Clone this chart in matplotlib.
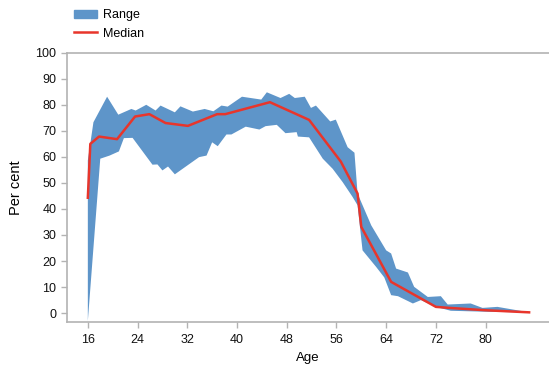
import numpy as np
import matplotlib
matplotlib.use("Agg")
import matplotlib.pyplot as plt
from matplotlib.patches import Patch
from matplotlib.lines import Line2D

plt.rcParams['font.family'] = ['Liberation Sans', 'DejaVu Sans']

# Median line
median_age = [16, 16.4, 17.8, 20.7, 23.6, 25.9, 28.5, 32.1, 36.8, 38.1, 45.3, 51.6,
              56.7, 59.4, 60.0, 64.8, 72.0, 74.2, 80.0, 87.0]
median_val = [44.3, 65.0, 67.8, 66.8, 75.5, 76.4, 73.0, 71.9, 76.4, 76.4, 81.0, 74.2,
              58.2, 45.9, 33.1, 12.0, 2.4, 2.0, 1.1, 0.3]

# Upper edge of range
upper_age = [16, 16.9, 19.1, 20.9, 23.0, 23.7, 25.4, 26.9, 27.7, 30.0, 30.9, 32.9, 34.8,
             36.2, 37.5, 38.5, 40.8, 43.9, 44.8, 47.0, 48.4, 49.3, 50.9, 51.9, 52.7,
             55.0, 55.9, 57.8, 58.9, 59.4, 61.6, 64.0, 64.8, 65.6, 67.5, 68.5, 70.7,
             72.8, 73.9, 77.6, 79.5, 81.9, 87.0]
upper_val = [58.6, 73.3, 83.1, 76.2, 78.4, 77.8, 80.0, 77.8, 79.7, 77.1, 79.4, 77.4, 78.4,
             77.5, 79.7, 79.3, 83.1, 82.0, 84.8, 82.6, 84.2, 82.6, 83.1, 78.8, 79.7,
             73.6, 74.3, 63.7, 61.6, 45.9, 33.7, 24.1, 22.9, 17.1, 15.6, 10.1, 6.2,
             6.5, 3.3, 3.7, 2.0, 2.4, 0.3]

# Lower edge of range
lower_age = [16, 18.0, 19.5, 21.0, 21.8, 23.2, 26.4, 27.2, 28.0, 28.9, 30.0, 33.9, 35.1,
             36.0, 36.9, 38.3, 39.1, 41.4, 43.6, 44.6, 46.4, 47.8, 49.6, 49.8, 51.6,
             53.8, 55.4, 57.0, 58.6, 59.4, 60.2, 62.4, 63.7, 64.8, 65.9, 68.3, 69.6,
             72.0, 74.4, 80.6, 87.0]
lower_val = [-3.0, 59.3, 60.5, 62.1, 67.2, 67.3, 57.0, 57.1, 54.8, 56.3, 53.3, 59.9, 60.5,
             65.6, 64.1, 68.6, 68.6, 71.6, 70.5, 71.8, 72.3, 69.1, 69.5, 67.8, 67.5,
             59.3, 55.4, 50.3, 44.6, 41.4, 24.1, 17.7, 13.7, 6.9, 6.5, 3.7, 5.0,
             2.4, 0.9, 0.5, 0.3]

x_ticks = [16, 24, 32, 40, 48, 56, 64, 72, 80]
y_ticks = list(range(0, 101, 10))

blue = '#5e95c9'
red = '#e8352b'
grey = '#b3b3b3'

fig = plt.figure(figsize=(5.49, 3.65), dpi=100)
ax = fig.add_axes([0.1215, 0.1186, 0.8785, 0.737])

ax.fill(np.concatenate([upper_age, lower_age[::-1]]),
        np.concatenate([upper_val, lower_val[::-1]]),
        color=blue, lw=0)
ax.plot(median_age, median_val, color=red, lw=1.8)

ax.set_xlim(12.6, 90.2)
ax.set_ylim(-3.3, 100)
ax.set_xticks(x_ticks)
ax.set_yticks(y_ticks)

for s in ['left', 'bottom', 'top']:
    ax.spines[s].set_color(grey)
    ax.spines[s].set_linewidth(1.2)
ax.spines['right'].set_visible(False)
ax.tick_params(colors=grey, labelcolor='#111111', labelsize=9, length=4, width=1)
ax.tick_params(axis='x', pad=5)

ax.set_xlabel('Age', fontsize=9.5, labelpad=4)
ax.set_ylabel('Per cent', fontsize=10.5, labelpad=9)

handles = [Patch(color=blue, label='Range'), Line2D([], [], color=red, lw=1.8, label='Median')]
fig.legend(handles=handles, loc='upper left', bbox_to_anchor=(0.115, 1.005), frameon=False,
           fontsize=9, handlelength=1.8, handleheight=0.7, labelspacing=0.5, handletextpad=0.5)

fig.savefig('out.png', dpi=100)
